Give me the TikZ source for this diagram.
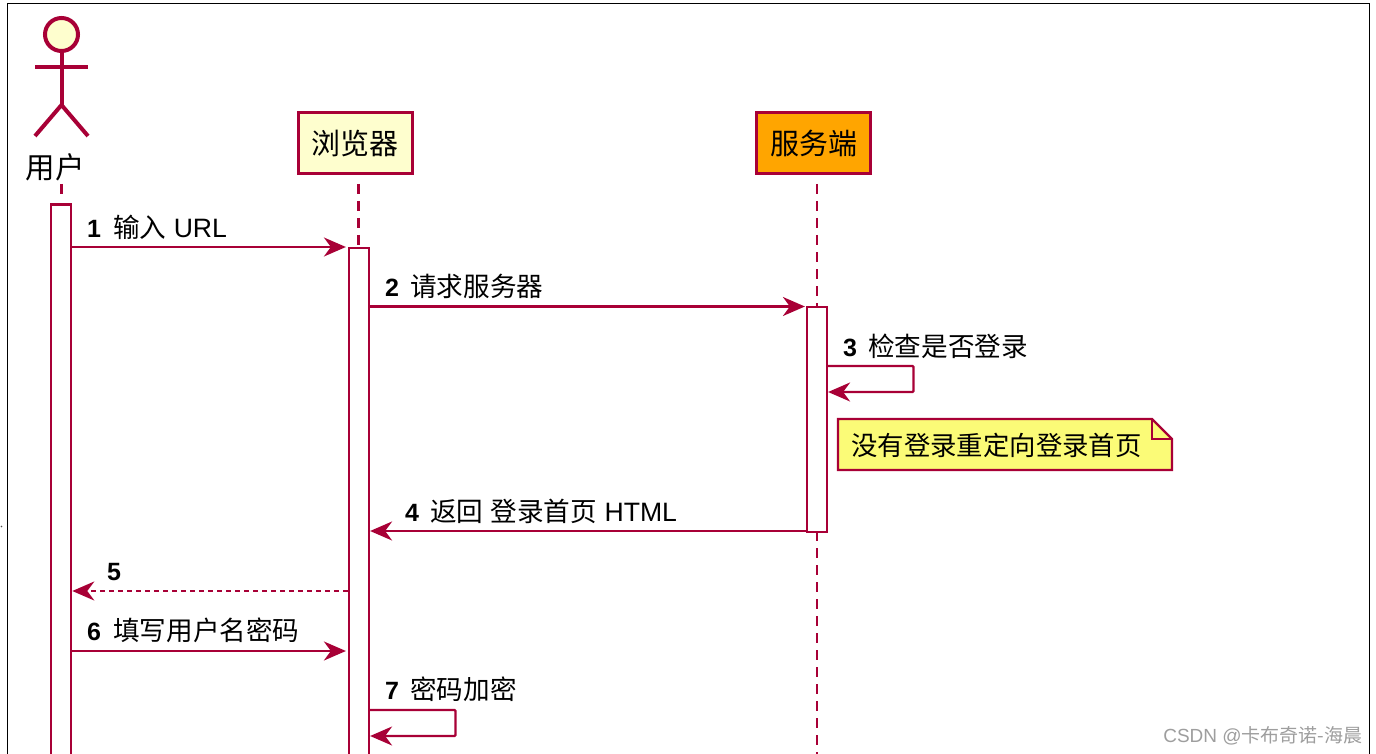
\documentclass[tikz,border=0pt]{standalone}
\usepackage{fontspec}
\usetikzlibrary{arrows.meta}
\setmainfont{Liberation Sans}
\newfontfamily\cjk{Noto Sans CJK SC}
\definecolor{pu}{HTML}{A80036}
\definecolor{puyellow}{HTML}{FEFECE}
\definecolor{puorange}{HTML}{FFA500}
\definecolor{punote}{HTML}{FBFB77}
\tikzset{
  x=1pt,y=-1pt,
  partbox/.style={draw=pu,line width=3pt,minimum width=114pt,minimum height=60.5pt,inner sep=0pt,font=\fontsize{29}{32}\selectfont\cjk},
  lifeline/.style={draw=pu,line width=2.2pt,dash pattern=on 10pt off 7pt},
  activ/.style={draw=pu,fill=white,line width=2.2pt,minimum width=20pt,inner sep=0pt,anchor=north},
  tip/.style={-{Stealth[length=22pt,width=19pt,inset=7pt,fill=pu]}},
  msg/.style={draw=pu,line width=2.2pt,tip},
  num/.style={anchor=base west,inner sep=0pt,font=\fontsize{25}{28}\selectfont\bfseries},
  lab/.style={anchor=base west,inner sep=0pt,font=\fontsize{26.6}{30}\selectfont},
  actorline/.style={draw=pu,line width=4pt},
}
\begin{document}
\begin{tikzpicture}
\clip (0,0) rectangle (1376,754);
\useasboundingbox (0,0) rectangle (1376,754);
\fill[white] (0,0) rectangle (1376,754);
\draw[black,line width=1.6pt] (7.5,770) -- (7.5,3.5) -- (1369.5,3.5) -- (1369.5,770);
\fill[black!70] (1.5,526.5) circle (0.8);

% participants
\node[partbox,fill=puyellow] (browser) at (355,143) {浏览器};
\node[partbox,fill=puorange] (server) at (813.5,143) {服务端};

% actor
\node[circle,draw=pu,fill=puyellow,line width=4pt,minimum size=33pt,inner sep=0pt] (head) at (61.5,34.5) {};
\coordinate (hip) at (61.5,105);
\coordinate (armL) at (35,67);
\coordinate (armR) at (88,67);
\coordinate (legL) at (35,136);
\coordinate (legR) at (88,136);
\draw[actorline] (head.south) -- (hip);
\draw[actorline] (armL) -- (armR);
\draw[actorline] (legL) -- (hip) -- (legR);
\node[inner sep=0pt,font=\fontsize{29.5}{32}\selectfont\cjk] (user) at (55,167.5) {用户};

% lifeline ends
\coordinate (ua) at (61.5,184);
\coordinate (ub) at (61.5,196);
\coordinate (ba) at (358.5,184);
\coordinate (bb) at (358.5,247);
\coordinate (sa) at (817,184);
\coordinate (sb) at (817,306);
\coordinate (sc) at (817,531);
\coordinate (sd) at (817,760);
\draw[lifeline] (ua) -- (ub);
\draw[lifeline] (ba) -- (bb);
\draw[lifeline] (sa) -- (sb);
\draw[lifeline] (sc) -- (sd);

% activations
\node[activ,minimum height=570pt] (a1) at (61.2,203.5) {};
\node[activ,minimum height=530pt] (a2) at (359,246.8) {};
\node[activ,minimum height=224.5pt] (a3) at (817,306) {};

% y levels
\coordinate (y1) at (0,247);
\coordinate (y2) at (0,306.5);
\coordinate (y3) at (0,366);
\coordinate (y3b) at (0,392);
\coordinate (y4) at (0,531);
\coordinate (y5) at (0,591);
\coordinate (y6) at (0,651);
\coordinate (y7) at (0,710);
\coordinate (y7b) at (0,736);
\coordinate (r3) at (913.5,0);
\coordinate (r7) at (455.5,0);

% messages
\draw[msg,shorten >=2pt] (a1.east |- y1) -- (a2.west |- y1);
\node[num] (n1) at (87,237) {1};
\node[lab] (t1) at (113,237) {{\cjk 输入} URL};

\draw[msg,shorten >=1pt] (a2.east |- y2) -- (a3.west |- y2);
\node[num] (n2) at (385,296.5) {2};
\node[lab,font=\fontsize{26.6}{30}\selectfont\cjk] (t2) at (410,296.5) {请求服务器};

\draw[draw=pu,line width=2.2pt,tip,rounded corners=1pt] (a3.east |- y3) -- (r3 |- y3) -- (r3 |- y3b) -- (a3.east |- y3b);
\node[num] (n3) at (843,356) {3};
\node[lab,font=\fontsize{26.6}{30}\selectfont\cjk] (t3) at (868,356) {检查是否登录};

% note
\draw[draw=pu,fill=punote,line width=2.2pt] (838,419) -- (1152,419) -- (1172,439) -- (1172,470) -- (838,470) -- cycle;
\draw[draw=pu,line width=2.2pt] (1152,419) -- (1152,439) -- (1172,439);
\node[inner sep=0pt,anchor=base west,font=\fontsize{26.4}{30}\selectfont\cjk] (note) at (851,455) {没有登录重定向登录首页};

\draw[msg] (a3.west |- y4) -- (a2.east |- y4);
\node[num] (n4) at (405,521.5) {4};
\node[lab] (t4) at (430,521.5) {{\cjk 返回} {\cjk 登录首页} HTML};

\draw[msg,dash pattern=on 5pt off 4pt] (a2.west |- y5) -- (a1.east |- y5);
\node[num] (n5) at (107,580.5) {5};

\draw[msg,shorten >=2pt] (a1.east |- y6) -- (a2.west |- y6);
\node[num] (n6) at (87,640.5) {6};
\node[lab,font=\fontsize{26.6}{30}\selectfont\cjk] (t6) at (113,640.5) {填写用户名密码};

\draw[draw=pu,line width=2.2pt,tip,rounded corners=1pt] (a2.east |- y7) -- (r7 |- y7) -- (r7 |- y7b) -- (a2.east |- y7b);
\node[num] (n7) at (385,699.5) {7};
\node[lab,font=\fontsize{26.6}{30}\selectfont\cjk] (t7) at (410,699.5) {密码加密};

% watermark
\node[inner sep=0pt,anchor=base east,text=black!38,font=\fontsize{19}{22}\selectfont] (wm) at (1362.5,742) {CSDN @{\cjk 卡布奇诺-海晨}};
\end{tikzpicture}
\end{document}
